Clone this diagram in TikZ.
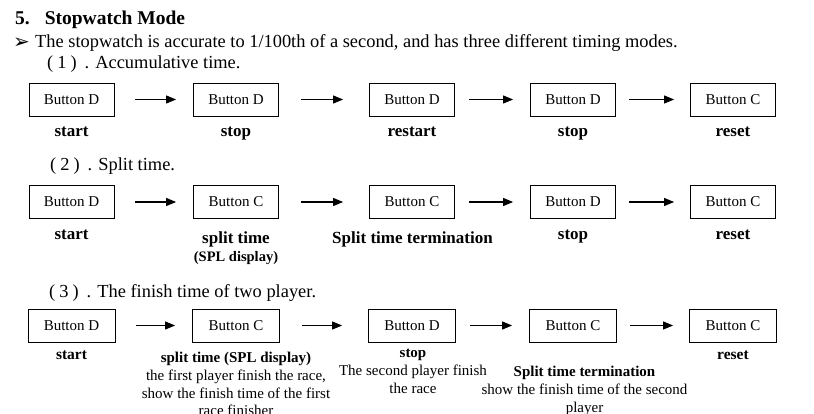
\documentclass[tikz,border=0pt]{standalone}
\usepackage{fontspec}
\setmainfont{Liberation Serif}
\newfontfamily\symfont{DejaVu Sans}
\usetikzlibrary{arrows.meta}
\tikzset{
  btn/.style={draw, line width=0.8pt, minimum width=85pt, minimum height=33pt,
    inner sep=0pt, font=\fontsize{15}{18}\selectfont},
  lbl/.style={anchor=base, inner sep=0pt, font=\fontsize{17}{20}\selectfont\bfseries},
  desc/.style={anchor=north, align=center, inner sep=0pt, font=\fontsize{15}{17.7}\selectfont},
  head/.style={anchor=base west, inner sep=0pt, font=\fontsize{18.4}{21}\selectfont},
  flow/.style={-{Triangle[length=10pt,width=8pt]}, line width=1.1pt},
}

\begin{document}
\begin{tikzpicture}[x=1pt, y=-1pt]

  \useasboundingbox (0,0) rectangle (814,414);
  \clip (0,0) rectangle (814,414);

  % Title and intro.
  \node[head, font=\fontsize{19.5}{22}\selectfont\bfseries] (title) at (15,24.5)
    {5.\hspace{15pt}Stopwatch Mode};
  \node[head, font=\fontsize{20}{22}\symfont] (bullet) at (13,49) {➢};
  \node[head] (intro) at (35,48)
    {The stopwatch is accurate to 1/100th of a second, and has three different timing modes.};

  % Row 1: accumulative time.
  \node[head] (mode1) at (47,69) {(\kern4pt1\kern4pt)\kern8pt. Accumulative time.};
  \foreach \i/\x/\t in {1/71.5/D, 2/236/D, 3/412/D, 4/573/D, 5/733/C} {
    \node[btn] (r1b\i) at (\x,99.5) {Button \t};
  }
  \node[lbl] (r1l1) at (71.5,137) {start};
  \node[lbl] (r1l2) at (236,137) {stop};
  \node[lbl] (r1l3) at (412,137) {restart};
  \node[lbl] (r1l4) at (573,137) {stop};
  \node[lbl] (r1l5) at (733,137) {reset};

  % Row 2: split time.
  \node[head] (mode2) at (50,171) {(\kern4pt2\kern4pt)\kern8pt. Split time.};
  \foreach \i/\x/\t in {1/71.5/D, 2/236/C, 3/412/C, 4/573/D, 5/733/C} {
    \node[btn] (r2b\i) at (\x,202) {Button \t};
  }
  \node[lbl] (r2l1) at (71.5,240) {start};
  \node[desc, font=\fontsize{17}{18}\selectfont\bfseries] (r2l2) at (236,232)
    {split time\\{\fontsize{14.5}{17}\selectfont (SPL display)}};
  \node[lbl] (r2l3) at (412.5,243.5) {Split time termination};
  \node[lbl] (r2l4) at (573,240) {stop};
  \node[lbl] (r2l5) at (733,240) {reset};

  % Row 3: finish time of two players.
  \node[head] (mode3) at (49,297) {(\kern4pt3\kern4pt)\kern8pt. The finish time of two player.};
  \foreach \i/\x/\t in {1/71.5/D, 2/236/C, 3/412/D, 4/573/C, 5/733/C} {
    \node[btn, minimum width=87pt] (r3b\i) at (\x,325.5) {Button \t};
  }
  \node[lbl, font=\fontsize{15.5}{18}\selectfont\bfseries] (r3l1) at (71.5,359) {start};
  \node[desc] (r3l2) at (236,352)
    {\textbf{split time (SPL display)}\\the first player finish the race,\\
     show the finish time of the first\\race finisher};
  \node[desc] (r3l3) at (413,349)
    {\textbf{stop}\\The second player finish\\the race};
  \node[desc] (r3l4) at (584.5,366)
    {\textbf{Split time termination}\\show the finish time of the second\\player};
  \node[lbl, font=\fontsize{15.5}{18}\selectfont\bfseries] (r3l5) at (733,359) {reset};

  % Arrows between the buttons.
  \foreach \r in {1,2,3} {
    \foreach \i/\j/\s/\e in {1/2/21/17, 2/3/22/26, 3/4/14/17, 4/5/13/16} {
      \draw[flow, shorten <=\s pt, shorten >=\e pt] (r\r b\i) -- (r\r b\j);
    }
  }

\end{tikzpicture}
\end{document}
